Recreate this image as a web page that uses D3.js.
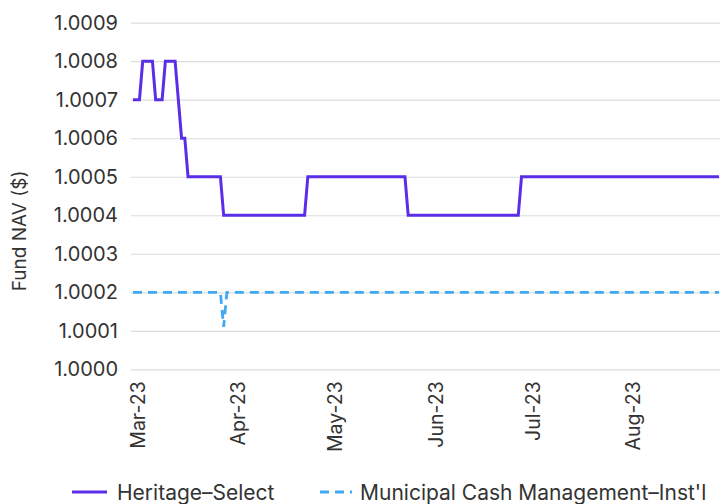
<!DOCTYPE html>
<html>
<head>
<meta charset="utf-8">
<script src="https://cdn.jsdelivr.net/npm/d3@7"></script>
<style>
  html, body { margin: 0; padding: 0; background: #fff; }
  svg { display: block; }
  text { font-family: Inter, "Noto Sans", sans-serif; fill: #333; }
</style>
</head>
<body>
<svg id="chart" width="720" height="504"></svg>
<script>
// ---- Data ----
const startDate = "2023-02-28";
const endDate = "2023-08-28";
const seriesNames = ["Heritage–Select", "Municipal Cash Management–Inst'l"];
const seriesColors = ["#5a2ee8", "#3fa9f5"];
// Daily NAV, Feb 28 – Aug 28 2023
const heritageSelect = [
  // Feb 28
  1.0007,
  // Mar 1 - Mar 31
  1.0007,1.0007,1.0008,1.0008,1.0008,1.0008,1.0007,1.0007,1.0007,1.0008,
  1.0008,1.0008,1.0008,1.0007,1.0006,1.0006,1.0005,1.0005,1.0005,1.0005,
  1.0005,1.0005,1.0005,1.0005,1.0005,1.0005,1.0005,1.0004,1.0004,1.0004,1.0004,
  // Apr 1 - Apr 30
  1.0004,1.0004,1.0004,1.0004,1.0004,1.0004,1.0004,1.0004,1.0004,1.0004,
  1.0004,1.0004,1.0004,1.0004,1.0004,1.0004,1.0004,1.0004,1.0004,1.0004,
  1.0004,1.0004,1.0005,1.0005,1.0005,1.0005,1.0005,1.0005,1.0005,1.0005,
  // May 1 - May 31
  1.0005,1.0005,1.0005,1.0005,1.0005,1.0005,1.0005,1.0005,1.0005,1.0005,
  1.0005,1.0005,1.0005,1.0005,1.0005,1.0005,1.0005,1.0005,1.0005,1.0005,
  1.0005,1.0005,1.0005,1.0004,1.0004,1.0004,1.0004,1.0004,1.0004,1.0004,1.0004,
  // Jun 1 - Jun 30
  1.0004,1.0004,1.0004,1.0004,1.0004,1.0004,1.0004,1.0004,1.0004,1.0004,
  1.0004,1.0004,1.0004,1.0004,1.0004,1.0004,1.0004,1.0004,1.0004,1.0004,
  1.0004,1.0004,1.0004,1.0004,1.0004,1.0004,1.0004,1.0005,1.0005,1.0005,
  // Jul 1 - Jul 31
  1.0005,1.0005,1.0005,1.0005,1.0005,1.0005,1.0005,1.0005,1.0005,1.0005,
  1.0005,1.0005,1.0005,1.0005,1.0005,1.0005,1.0005,1.0005,1.0005,1.0005,
  1.0005,1.0005,1.0005,1.0005,1.0005,1.0005,1.0005,1.0005,1.0005,1.0005,1.0005,
  // Aug 1 - Aug 28
  1.0005,1.0005,1.0005,1.0005,1.0005,1.0005,1.0005,1.0005,1.0005,1.0005,
  1.0005,1.0005,1.0005,1.0005,1.0005,1.0005,1.0005,1.0005,1.0005,1.0005,
  1.0005,1.0005,1.0005,1.0005,1.0005,1.0005,1.0005,1.0005
];
const municipalCash = [
  // Feb 28
  1.0002,
  // Mar 1 - Mar 31
  1.0002,1.0002,1.0002,1.0002,1.0002,1.0002,1.0002,1.0002,1.0002,1.0002,
  1.0002,1.0002,1.0002,1.0002,1.0002,1.0002,1.0002,1.0002,1.0002,1.0002,
  1.0002,1.0002,1.0002,1.0002,1.0002,1.0002,1.0002,1.00011,1.0002,1.0002,1.0002,
  // Apr 1 - Apr 30
  1.0002,1.0002,1.0002,1.0002,1.0002,1.0002,1.0002,1.0002,1.0002,1.0002,
  1.0002,1.0002,1.0002,1.0002,1.0002,1.0002,1.0002,1.0002,1.0002,1.0002,
  1.0002,1.0002,1.0002,1.0002,1.0002,1.0002,1.0002,1.0002,1.0002,1.0002,
  // May 1 - May 31
  1.0002,1.0002,1.0002,1.0002,1.0002,1.0002,1.0002,1.0002,1.0002,1.0002,
  1.0002,1.0002,1.0002,1.0002,1.0002,1.0002,1.0002,1.0002,1.0002,1.0002,
  1.0002,1.0002,1.0002,1.0002,1.0002,1.0002,1.0002,1.0002,1.0002,1.0002,1.0002,
  // Jun 1 - Jun 30
  1.0002,1.0002,1.0002,1.0002,1.0002,1.0002,1.0002,1.0002,1.0002,1.0002,
  1.0002,1.0002,1.0002,1.0002,1.0002,1.0002,1.0002,1.0002,1.0002,1.0002,
  1.0002,1.0002,1.0002,1.0002,1.0002,1.0002,1.0002,1.0002,1.0002,1.0002,
  // Jul 1 - Jul 31
  1.0002,1.0002,1.0002,1.0002,1.0002,1.0002,1.0002,1.0002,1.0002,1.0002,
  1.0002,1.0002,1.0002,1.0002,1.0002,1.0002,1.0002,1.0002,1.0002,1.0002,
  1.0002,1.0002,1.0002,1.0002,1.0002,1.0002,1.0002,1.0002,1.0002,1.0002,1.0002,
  // Aug 1 - Aug 28
  1.0002,1.0002,1.0002,1.0002,1.0002,1.0002,1.0002,1.0002,1.0002,1.0002,
  1.0002,1.0002,1.0002,1.0002,1.0002,1.0002,1.0002,1.0002,1.0002,1.0002,
  1.0002,1.0002,1.0002,1.0002,1.0002,1.0002,1.0002,1.0002
];
const yTicks = [1.0000,1.0001,1.0002,1.0003,1.0004,1.0005,1.0006,1.0007,1.0008,1.0009];
const xTickLabels = ["Mar-23","Apr-23","May-23","Jun-23","Jul-23","Aug-23"];
const yLabel = "Fund NAV ($)";

// ---- Chart ----
const svg = d3.select("#chart");
const parse = d3.timeParse("%Y-%m-%d");
const t0 = parse(startDate), t1 = parse(endDate);
const dates = d3.timeDay.range(t0, d3.timeDay.offset(t1, 1));

const x = d3.scaleTime().domain([t0, t1]).range([133, 719]);
const y = d3.scaleLinear().domain([1.0000, 1.0009]).range([369.3, 22.7]);

// gridlines + y labels
const yAxis = d3.axisLeft(y).tickValues(yTicks).tickFormat(d3.format(".4f"))
  .tickSize(-(720 - 131)).tickPadding(13);
const gy = svg.append("g").attr("transform", "translate(131,0)").call(yAxis);
gy.select(".domain").remove();
gy.selectAll(".tick line").attr("stroke", "#dcdcdc").attr("stroke-width", 1.2);
gy.selectAll(".tick text").style("font-size", "20px").attr("fill", "#333").attr("font-family", "Inter");

// x labels
const xTickDates = d3.timeMonth.range(parse("2023-03-01"), parse("2023-08-02"));
const xAxis = d3.axisBottom(x).tickValues(xTickDates)
  .tickFormat((d, i) => xTickLabels[i]).tickSize(0);
const gx = svg.append("g").attr("transform", "translate(0,369.3)").call(xAxis);
gx.select(".domain").remove();
gx.selectAll(".tick text")
  .style("font-size", "19.5px").attr("fill", "#333").attr("font-family", "Inter")
  .attr("text-anchor", "end")
  .attr("transform", "rotate(-90)")
  .attr("x", -12).attr("y", 1).attr("dy", "0.36em");

// lines
const line = d3.line().x((d, i) => x(dates[i])).y(d => y(d)).curve(d3.curveLinear);
svg.append("path").datum(municipalCash)
  .attr("fill", "none").attr("stroke", seriesColors[1]).attr("stroke-width", 2.8)
  .attr("stroke-dasharray", "9,6").attr("d", line);
svg.append("path").datum(heritageSelect)
  .attr("fill", "none").attr("stroke", seriesColors[0]).attr("stroke-width", 3)
  .attr("stroke-linejoin", "miter").attr("d", line);

// y label
svg.append("text")
  .attr("transform", "translate(26,231) rotate(-90)")
  .attr("text-anchor", "middle")
  .style("font-size", "19px").attr("fill", "#333")
  .text(yLabel);

// legend
const legend = svg.append("g");
legend.append("line").attr("x1", 72).attr("x2", 107).attr("y1", 492).attr("y2", 492)
  .attr("stroke", seriesColors[0]).attr("stroke-width", 3);
legend.append("text").attr("x", 117).attr("y", 500).style("font-size", "21px").text(seriesNames[0]);
legend.append("line").attr("x1", 320).attr("x2", 352).attr("y1", 492).attr("y2", 492)
  .attr("stroke", seriesColors[1]).attr("stroke-width", 3).attr("stroke-dasharray", "9,6");
legend.append("text").attr("x", 360).attr("y", 500).style("font-size", "21px").text(seriesNames[1]);
</script>
</body>
</html>
